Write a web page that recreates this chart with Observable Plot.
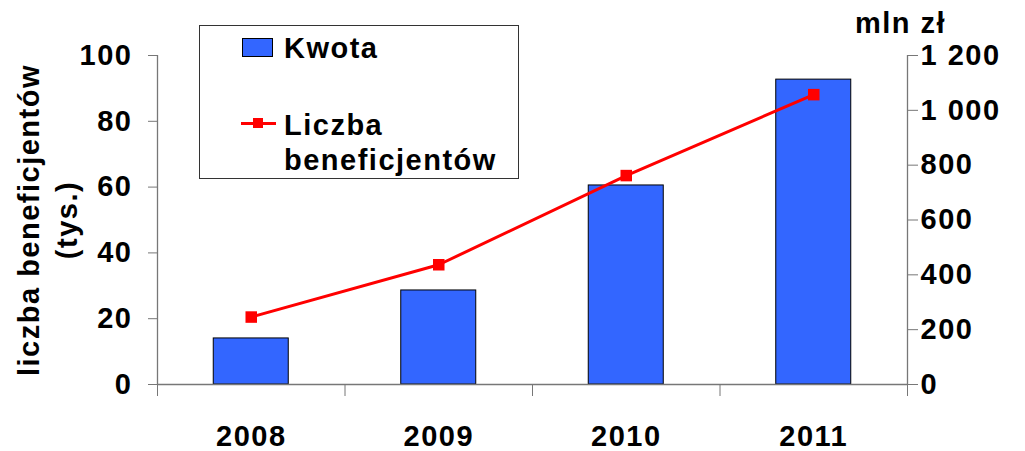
<!DOCTYPE html>
<html>
<head>
<meta charset="utf-8">
<script src="https://cdn.jsdelivr.net/npm/d3@7"></script>
<script src="https://cdn.jsdelivr.net/npm/@observablehq/plot@0.6"></script>
<style>
  body { margin: 0; background: #fff; }
  #wrap { position: relative; width: 1025px; height: 451px; font-family: "Liberation Sans", Arial, sans-serif; font-weight: bold; }
  .lbl { position: absolute; font-size: 29px; line-height: 29px; letter-spacing: 1.5px; color: #000; white-space: nowrap; }
  #legend { position: absolute; left: 199px; top: 25px; width: 320px; height: 154px; border: 1px solid #333; background: #fff; box-sizing: border-box; }
</style>
</head>
<body>
<div id="wrap"></div>
<script>
// Data
const years = ["2008", "2009", "2010", "2011"];
const kwota = [168, 343, 726, 1112];          // mln zł (right axis)
const liczba = [20.5, 36.4, 63.5, 88.1];      // tys. (left axis)
const leftTicks = [0, 20, 40, 60, 80, 100];
const rightTicks = [0, 200, 400, 600, 800, 1000, 1200];
const rightMax = 1200, leftMax = 100;
const ratio = rightMax / leftMax;

const data = years.map((y, i) => ({year: y, i, kwota: kwota[i], liczba: liczba[i]}));
const fmt = v => String(Math.round(v)).replace(/\B(?=(\d{3})+(?!\d))/g, " ");
const gray = "#777";

const chart = Plot.plot({
  width: 1025,
  height: 451,
  marginLeft: 157,
  marginRight: 118,
  marginTop: 55,
  marginBottom: 67,
  style: {fontFamily: "'Liberation Sans', Arial, sans-serif", fontWeight: "bold", letterSpacing: "1.5px", color: "#000", background: "#fff"},
  x: {domain: [0, years.length]},
  y: {domain: [0, leftMax]},
  marks: [
    Plot.rectY(data, {x1: d => d.i + 0.3, x2: d => d.i + 0.7, y: d => d.kwota / ratio, fill: "#3366FF", stroke: "#000", strokeWidth: 1}),
    Plot.ruleY([0], {stroke: gray, strokeWidth: 1.3}),
    Plot.ruleX([0, years.length], {stroke: gray, strokeWidth: 1.3}),
    Plot.axisY(leftTicks, {anchor: "left", tickSize: 9, tickPadding: 16, fontSize: 29, stroke: gray, label: null}),
    Plot.axisY(rightTicks.map(v => v / ratio), {anchor: "right", tickSize: 10, tickPadding: 3, fontSize: 29, stroke: gray, label: null, tickFormat: d => fmt(d * ratio)}),
    Plot.axisX(d3.range(years.length + 1), {anchor: "bottom", tickSize: 12, stroke: gray, tickFormat: () => "", label: null}),
    Plot.axisX(years.map((y, i) => i + 0.5), {anchor: "bottom", tickSize: 0, tickPadding: 41, fontSize: 29, label: null, tickFormat: d => years[Math.floor(d)]}),
    Plot.line(data, {x: d => d.i + 0.5, y: "liczba", stroke: "#FF0000", strokeWidth: 3}),
    Plot.dot(data, {x: d => d.i + 0.5, y: "liczba", symbol: "square", r: 6.5, fill: "#FF0000", stroke: "none"}),
    Plot.text(["liczba beneficjentów\n(tys.)"], {frameAnchor: "left", textAnchor: "middle", lineAnchor: "middle", rotate: -90, dx: -112, fontSize: 29, lineHeight: 1.32, fill: "#000"})
  ]
});

const wrap = document.getElementById("wrap");
wrap.appendChild(chart);

// Legend overlay
const legend = document.createElement("div");
legend.id = "legend";
legend.innerHTML = `
  <div style="position:absolute; left:42px; top:12px; width:31px; height:19px; background:#3366FF; border:1px solid #000; box-sizing:border-box;"></div>
  <div class="lbl" style="left:84px; top:8px;">Kwota</div>
  <div style="position:absolute; left:41px; top:96px; width:35px; height:3px; background:#FF0000;"></div>
  <div style="position:absolute; left:53px; top:92px; width:10px; height:10px; background:#FF0000;"></div>
  <div class="lbl" style="left:84px; top:85px;">Liczba</div>
  <div class="lbl" style="left:84px; top:120px;">beneficjentów</div>`;
wrap.appendChild(legend);

const unit = document.createElement("div");
unit.className = "lbl";
unit.style.left = "855px";
unit.style.top = "9px";
unit.textContent = "mln zł";
wrap.appendChild(unit);
</script>
</body>
</html>
